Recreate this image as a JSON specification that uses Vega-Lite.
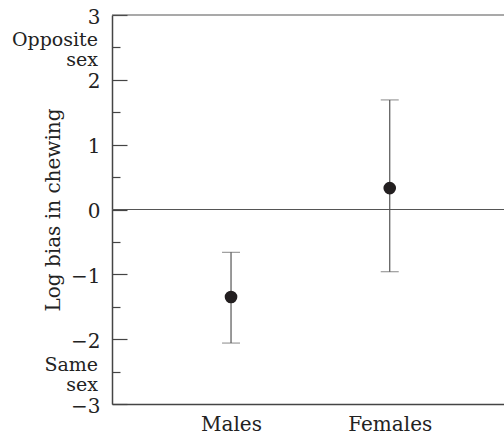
{
  "$schema": "https://vega.github.io/schema/vega-lite/v6.json",
  "width": 392,
  "height": 389,
  "autosize": {"type": "none"},
  "padding": {"left": 112, "top": 15, "right": 0, "bottom": 30},
  "config": {
    "view": {"stroke": null},
    "font": "DejaVu Serif",
    "axis": {"labelFont": "DejaVu Serif", "titleFont": "DejaVu Serif", "grid": false}
  },
  "datasets": {
    "groups": [
      {"group": "Males", "x": 1, "mean": -1.35, "lo": -2.06, "hi": -0.66},
      {"group": "Females", "x": 2, "mean": 0.33, "lo": -0.96, "hi": 1.69}
    ],
    "refs": [{"y": 0}, {"y": 3}],
    "notes": [
      {"x": 0.25, "y": 2.62, "label": "Opposite\nsex"},
      {"x": 0.25, "y": -2.4, "label": "Same\nsex"}
    ]
  },
  "resolve": {"axis": {"y": "independent"}},
  "layer": [
    {
      "data": {"name": "refs"},
      "mark": {"type": "rule", "color": "#555", "strokeWidth": 1.2},
      "encoding": {
        "y": {
          "field": "y", "type": "quantitative",
          "title": "Log bias in chewing",
          "scale": {"domain": [-3, 3], "nice": false, "zero": false},
          "axis": {
            "orient": "left",
            "values": [-3, -2, -1, 0, 1, 2, 3],
            "format": "d",
            "ticks": true,
            "tickSize": -15,
            "labelPadding": 27,
            "labelOverlap": false,
            "labelBaseline": "middle",
            "labelOffset": 2,
            "domainColor": "#444", "domainWidth": 1.5,
            "tickColor": "#444", "tickWidth": 1.2,
            "labelFontSize": 20, "labelColor": "#222",
            "titleFontSize": 20, "titleFontWeight": "normal", "titleColor": "#222",
            "titlePadding": 7
          }
        }
      }
    },
    {
      "data": {"name": "groups"},
      "mark": {
        "type": "errorbar", "orient": "vertical",
        "ticks": {"size": 18, "color": "#555", "strokeWidth": 1.2},
        "rule": {"color": "#555", "strokeWidth": 1.2}
      },
      "encoding": {
        "x": {
          "field": "x", "type": "quantitative", "title": null,
          "scale": {"domain": [0.25, 2.72], "nice": false, "zero": false},
          "axis": {
            "values": [1, 2],
            "labelExpr": "datum.value == 1 ? 'Males' : 'Females'",
            "ticks": false,
            "labelPadding": 10,
            "labelFlush": false,
            "domainColor": "#444", "domainWidth": 1.5,
            "labelFontSize": 20, "labelColor": "#222"
          }
        },
        "y": {"field": "lo", "type": "quantitative", "axis": null},
        "y2": {"field": "hi"}
      }
    },
    {
      "data": {"name": "groups"},
      "mark": {"type": "point", "filled": true, "size": 160, "color": "#231f20", "opacity": 1},
      "encoding": {
        "x": {"field": "x", "type": "quantitative", "title": null},
        "y": {
          "field": "mean", "type": "quantitative",
          "axis": {
            "orient": "left",
            "values": [-2.5, -1.5, -0.5, 0.5, 1.5, 2.5],
            "labels": false,
            "domain": false,
            "title": null,
            "ticks": true,
            "tickSize": -8,
            "tickColor": "#444", "tickWidth": 1.2
          }
        }
      }
    },
    {
      "data": {"name": "notes"},
      "mark": {"type": "text", "align": "right", "baseline": "middle", "dx": -14, "fontSize": 19, "font": "DejaVu Serif", "color": "#222", "lineBreak": "\n", "lineHeight": 20},
      "encoding": {
        "x": {"field": "x", "type": "quantitative", "title": null},
        "y": {"field": "y", "type": "quantitative", "axis": null},
        "text": {"field": "label"}
      }
    }
  ]
}
